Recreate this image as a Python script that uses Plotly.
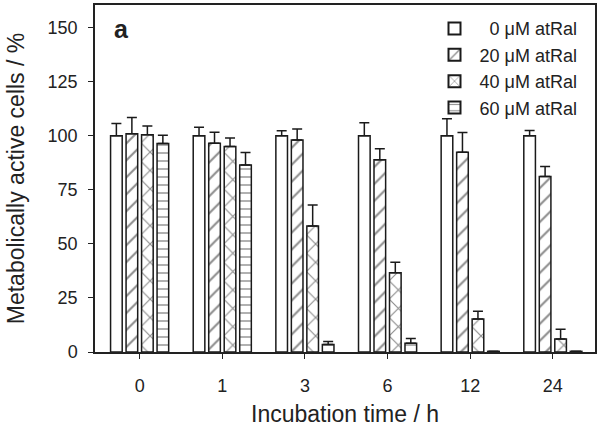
import plotly.graph_objects as go

times = ["0", "1", "3", "6", "12", "24"]
series_names = ["  0 \u03bcM atRal", "20 \u03bcM atRal", "40 \u03bcM atRal", "60 \u03bcM atRal"]
values = [
    [100, 100, 100, 100, 100, 100],
    [101, 96.6, 98.1, 88.9, 92.4, 81.2],
    [100.5, 95.1, 58.3, 36.7, 15.3, 6.0],
    [96.4, 86.5, 3.5, 4.0, 0.3, 0.3],
]
errors = [
    [5.7, 4.0, 2.3, 6.0, 7.9, 2.4],
    [7.5, 5.1, 5.1, 5.1, 9.1, 4.6],
    [4.0, 3.9, 9.7, 4.8, 3.5, 4.5],
    [3.9, 5.8, 1.3, 2.3, 0.0, 0.0],
]
patterns = ["", "/", "x", "-"]
pattern_sizes = [10, 12, 13, 8]

fig = go.Figure()
for name, vals, errs, pat, ps in zip(series_names, values, errors, patterns, pattern_sizes):
    fig.add_trace(go.Bar(
        x=list(range(len(times))), y=vals, name=name,
        marker=dict(color="white", line=dict(color="#1a1a1a", width=1.5),
                    pattern=dict(shape=pat, fgcolor="#1a1a1a", bgcolor="white",
                                 size=ps, solidity=0.17, fillmode="overlay")),
        error_y=dict(type="data", array=errs, symmetric=False, arrayminus=[0]*len(errs),
                     color="#1a1a1a", thickness=1.5, width=5),
    ))

font = "Liberation Sans, Arial, sans-serif"
fig.update_layout(
    width=600, height=439,
    margin=dict(l=95, r=5, t=5, b=87, autoexpand=False),
    paper_bgcolor="white", plot_bgcolor="white",
    barmode="group", bargap=0.25, bargroupgap=0.25,
    font=dict(family=font, size=18, color="#222"),
    legend=dict(x=0.975, y=0.985, xanchor="right", yanchor="top",
                bgcolor="rgba(0,0,0,0)", font=dict(size=18),
                itemsizing="constant", tracegroupgap=0, itemwidth=40),
    xaxis=dict(range=[-0.54, 5.51], tickmode="array",
               tickvals=list(range(len(times))), ticktext=times,
               ticks="outside", ticklen=5, tickcolor="#222", tickwidth=1.3,
               ticklabelstandoff=12, automargin=False,
               showline=True, linecolor="#222", linewidth=1.5, mirror=True,
               showgrid=False, zeroline=False,
               title=dict(text="Incubation time / h", font=dict(size=23), standoff=11)),
    yaxis=dict(range=[0, 160.5], tickvals=[0, 25, 50, 75, 100, 125, 150],
               ticks="outside", ticklen=5, tickcolor="#222", tickwidth=1.3,
               ticklabelstandoff=7, automargin=False,
               showline=True, linecolor="#222", linewidth=1.5, mirror=True,
               showgrid=False, zeroline=False,
               title=dict(text="Metabolically active cells / %", font=dict(size=23), standoff=17)),
    annotations=[dict(text="a", xref="paper", yref="paper", x=0.034, y=0.977,
                      xanchor="left", yanchor="top", showarrow=False,
                      font=dict(family="Liberation Sans", weight="bold", size=25, color="#222"))],
)

fig.write_html("out.html", config={"displayModeBar": False},
               post_script="document.body.style.margin='0';")
